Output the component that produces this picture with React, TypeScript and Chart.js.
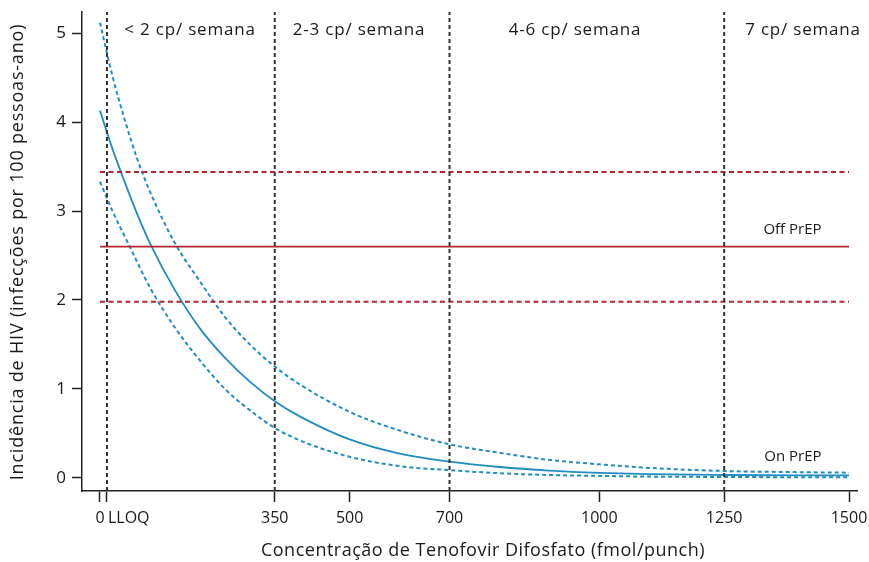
import React, { useEffect, useRef } from "react";
import { Chart, registerables } from "chart.js";

Chart.register(...registerables);

// concentration grid (fmol/punch)
const conc = [0, 25, 50, 75, 100, 150, 200, 250, 300, 350, 400, 500, 600, 700, 800, 900, 1000, 1100, 1250, 1400, 1500];
// On PrEP incidence estimate and 95% bounds
const onPrep = [4.13, 3.70, 3.32, 2.96, 2.64, 2.11, 1.68, 1.35, 1.08, 0.86, 0.69, 0.43, 0.27, 0.18, 0.12, 0.08, 0.055, 0.04, 0.03, 0.025, 0.025];
const onUpper = [5.12, 4.52, 4.02, 3.58, 3.22, 2.64, 2.21, 1.81, 1.50, 1.25, 1.05, 0.74, 0.53, 0.375, 0.28, 0.20, 0.15, 0.11, 0.075, 0.062, 0.056];
const onLower = [3.33, 3.00, 2.71, 2.42, 2.14, 1.69, 1.32, 1.00, 0.76, 0.56, 0.42, 0.235, 0.13, 0.085, 0.05, 0.03, 0.02, 0.012, 0.008, 0.005, 0.005];
// Off PrEP incidence and 95% bounds
const offPrep = 2.60;
const offUpper = 3.44;
const offLower = 1.98;
// dosing thresholds
const lloq = 14;
const thresholds = [lloq, 350, 700, 1250];
const bandLabels = ["< 2 cp/ semana", "2-3 cp/ semana", "4-6 cp/ semana", "7 cp/ semana"];
const xTicks = [0, lloq, 350, 500, 700, 1000, 1250, 1500];
const yTicks = [0, 1, 2, 3, 4, 5];

const FONT = "'Open Sans', sans-serif";
const BLUE = "#1f8cc2";
const RED = "#b3262d";
const GRAY = "#333333";
const XMIN = -36, XMAX = 1516, YMIN = -0.15, YMAX = 5.24;

const textPlugin = {
  id: "texts",
  afterDraw(chart: any) {
    const ctx = chart.ctx;
    const xs = chart.scales.x;
    const ys = chart.scales.y;
    ctx.save();
    ctx.fillStyle = "#1a1a1a";
    ctx.textBaseline = "middle";
    // band labels
    ctx.font = `17px ${FONT}`;
    (ctx as any).letterSpacing = "0.8px";
    ctx.textAlign = "center";
    const centers = [190, 359, 575, 803];
    bandLabels.forEach((t, i) => {
      ctx.fillText(t, centers[i], 30);
    });
    (ctx as any).letterSpacing = "0px";
    // Off / On PrEP
    ctx.font = `15px ${FONT}`;
    ctx.textAlign = "right";
    ctx.fillText("Off PrEP", xs.getPixelForValue(1445), ys.getPixelForValue(offPrep) - 17);
    ctx.fillText("On PrEP", xs.getPixelForValue(1445), ys.getPixelForValue(0.24));
    // LLOQ tick label
    ctx.font = `16px ${FONT}`;
    ctx.textAlign = "left";
    ctx.fillText("LLOQ", xs.getPixelForValue(lloq) + 1, 518);
    // axis titles
    ctx.textAlign = "center";
    ctx.font = `18px ${FONT}`;
    (ctx as any).letterSpacing = "0.5px";
    ctx.fillText("Concentração de Tenofovir Difosfato (fmol/punch)", 483, 551);
    ctx.save();
    ctx.translate(18, 252);
    ctx.rotate(-Math.PI / 2);
    ctx.font = `18px ${FONT}`;
    (ctx as any).letterSpacing = "0.8px";
    ctx.fillText("Incidência de HIV (infecções por 100 pessoas-ano)", 0, 0);
    ctx.restore();
    ctx.restore();
  },
};

function pts(ys: number[]) {
  return conc.map((c, i) => ({ x: c, y: ys[i] }));
}

export default function App() {
  const ref = useRef<HTMLCanvasElement | null>(null);
  useEffect(() => {
    const ds: any[] = [];
    thresholds.forEach((t) => {
      ds.push({
        data: [{ x: t, y: YMIN }, { x: t, y: YMAX }],
        borderColor: GRAY, borderWidth: 2, borderDash: [4, 3], pointRadius: 0, order: 0,
      });
    });
    ds.push({ data: [{ x: 0, y: offUpper }, { x: 1500, y: offUpper }], borderColor: RED, borderWidth: 2, borderDash: [5, 3.5], pointRadius: 0 });
    ds.push({ data: [{ x: 0, y: offLower }, { x: 1500, y: offLower }], borderColor: RED, borderWidth: 2, borderDash: [5, 3.5], pointRadius: 0 });
    ds.push({ data: [{ x: 0, y: offPrep }, { x: 1500, y: offPrep }], borderColor: RED, borderWidth: 1.6, pointRadius: 0 });
    ds.push({ data: pts(onUpper), borderColor: BLUE, borderWidth: 2, borderDash: [4, 3], pointRadius: 0, cubicInterpolationMode: "monotone" });
    ds.push({ data: pts(onLower), borderColor: BLUE, borderWidth: 2, borderDash: [4, 3], pointRadius: 0, cubicInterpolationMode: "monotone" });
    ds.push({ data: pts(onPrep), borderColor: BLUE, borderWidth: 1.8, pointRadius: 0, cubicInterpolationMode: "monotone" });

    const chart = new Chart(ref.current as HTMLCanvasElement, {
      type: "line",
      data: { datasets: ds },
      plugins: [textPlugin],
      options: {
        animation: false,
        responsive: false,
        devicePixelRatio: 1,
        layout: { padding: { left: 0, top: 12, right: 12, bottom: 0 } },
        plugins: { legend: { display: false }, tooltip: { enabled: false } },
        scales: {
          x: {
            type: "linear",
            min: XMIN,
            max: XMAX,
            afterBuildTicks: (s: any) => { s.ticks = xTicks.map((v) => ({ value: v })); },
            afterFit: (s: any) => { s.height = 71; s.paddingRight = 0; s.paddingLeft = 0; },
            border: { display: true, color: "#222", width: 1.5 },
            grid: { display: true, drawOnChartArea: false, drawTicks: true, tickLength: 11, tickColor: "#222", tickWidth: 1.5 },
            ticks: {
              autoSkip: false, maxRotation: 0, padding: 7, color: "#1a1a1a",
              font: { family: FONT, size: 16 },
              callback: (v: any) => (v === lloq ? "" : String(v)),
            },
          },
          y: {
            type: "linear",
            min: YMIN,
            max: YMAX,
            afterBuildTicks: (s: any) => { s.ticks = yTicks.map((v) => ({ value: v })); },
            afterFit: (s: any) => { s.width = 82; s.paddingTop = 0; s.paddingBottom = 0; },
            border: { display: true, color: "#222", width: 1.5 },
            grid: { display: true, drawOnChartArea: false, drawTicks: true, tickLength: 10, tickColor: "#222", tickWidth: 1.5 },
            ticks: { padding: 6, color: "#1a1a1a", font: { family: FONT, size: 17 } },
          },
        },
      } as any,
    });
    return () => chart.destroy();
  }, []);
  return (
    <div style={{ position: "fixed", left: 0, top: 0, width: 869, height: 562, background: "#fff" }}>
      <canvas ref={ref} width={869} height={562} style={{ width: 869, height: 562 }} />
    </div>
  );
}
